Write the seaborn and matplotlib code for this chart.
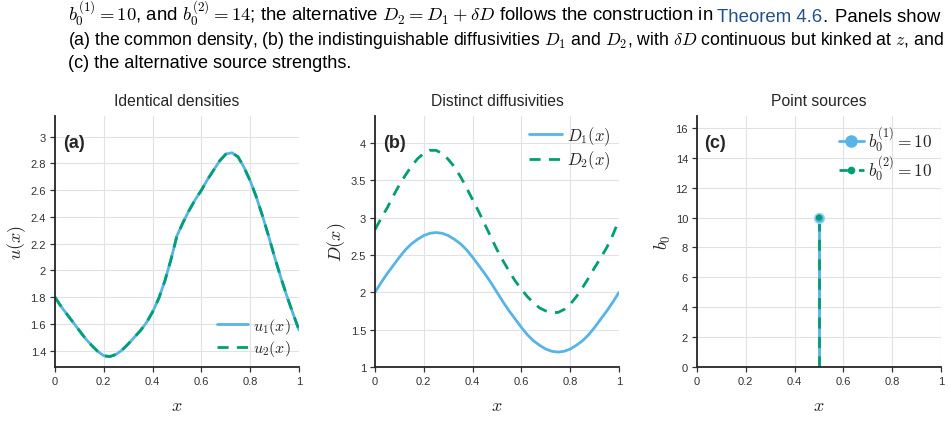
import numpy as np
import pandas as pd
import matplotlib
matplotlib.use('Agg')
import matplotlib.pyplot as plt
from matplotlib.lines import Line2D
from matplotlib.legend_handler import HandlerLine2D
from matplotlib.ticker import FuncFormatter, MultipleLocator
import seaborn as sns

# data (x step 0.025)
x_grid = [0.0, 0.025, 0.05, 0.075, 0.1, 0.125, 0.15, 0.175, 0.2, 0.225,
          0.25, 0.275, 0.3, 0.325, 0.35, 0.375, 0.4, 0.425, 0.45, 0.475,
          0.5, 0.525, 0.55, 0.575, 0.6, 0.625, 0.65, 0.675, 0.7, 0.725,
          0.75, 0.775, 0.8, 0.825, 0.85, 0.875, 0.9, 0.925, 0.95, 0.975, 1.0]
u_vals = [1.80, 1.73, 1.67, 1.61, 1.55, 1.49, 1.44, 1.395, 1.362, 1.356,
          1.372, 1.405, 1.45, 1.50, 1.55, 1.61, 1.69, 1.79, 1.92, 2.08,
          2.26, 2.36, 2.45, 2.53, 2.60, 2.68, 2.75, 2.82, 2.87, 2.88,
          2.85, 2.77, 2.67, 2.55, 2.41, 2.26, 2.10, 1.95, 1.81, 1.68, 1.555]
D1_vals = [2.00, 2.13, 2.25, 2.36, 2.47, 2.57, 2.65, 2.71, 2.76, 2.79,
           2.80, 2.79, 2.76, 2.71, 2.65, 2.57, 2.47, 2.36, 2.25, 2.13,
           2.00, 1.87, 1.75, 1.64, 1.53, 1.43, 1.35, 1.29, 1.24, 1.21,
           1.20, 1.21, 1.24, 1.29, 1.35, 1.43, 1.53, 1.64, 1.75, 1.87, 2.00]
D2_vals = [2.84, 2.99, 3.13, 3.29, 3.44, 3.57, 3.69, 3.79, 3.86, 3.90,
           3.90, 3.86, 3.78, 3.68, 3.55, 3.40, 3.24, 3.08, 2.91, 2.74,
           2.57, 2.42, 2.28, 2.15, 2.04, 1.94, 1.86, 1.79, 1.75, 1.73,
           1.73, 1.77, 1.84, 1.94, 2.06, 2.19, 2.33, 2.46, 2.60, 2.77, 2.97]
src_x = 0.5
b0_1 = 10
b0_2 = 10

blue = '#56B4E9'
green = '#009E73'
link_blue = '#22518c'

sns.set_theme(style="ticks")
plt.rcParams['font.family'] = ['Liberation Sans', 'DejaVu Sans']
plt.rcParams['mathtext.fontset'] = 'cm'

W, H = 950, 431
fig = plt.figure(figsize=(W / 100, H / 100), dpi=100)


class EndMarker(HandlerLine2D):
    # legend handle with the marker drawn at the right end of the line
    def get_xdata(self, legend, xdescent, ydescent, width, height, fontsize):
        return [-xdescent, -xdescent + width], [-xdescent + width]


def make_ax(left_px):
    ax = fig.add_axes([left_px / W, (H - 368) / H, 244 / W, 251 / H])
    ax.grid(True, color='#e2e2e2', linewidth=0.8)
    ax.set_axisbelow(True)
    for s in ['top', 'right']:
        ax.spines[s].set_visible(False)
    for s in ['left', 'bottom']:
        ax.spines[s].set_color('#262626')
        ax.spines[s].set_linewidth(1.3)
    ax.tick_params(labelsize=8, colors='#333333', length=3.5, width=0.9, pad=3)
    fmt = FuncFormatter(lambda v, p: f'{v:g}')
    ax.xaxis.set_major_formatter(fmt)
    ax.yaxis.set_major_formatter(fmt)
    ax.set_xlim(0, 1)
    ax.xaxis.set_major_locator(MultipleLocator(0.2))
    ax.set_xlabel('$x$', fontsize=13, labelpad=8)
    return ax


def panel_label(ax, txt, xf):
    ax.text(xf, 0.894, txt, transform=ax.transAxes, fontsize=13,
            fontweight='bold', va='center', ha='left')


# (a) densities
ax1 = make_ax(55)
df_u = pd.DataFrame({'x': x_grid, 'u': u_vals})
sns.lineplot(data=df_u, x='x', y='u', color=blue, linewidth=2, ax=ax1, label='$u_1(x)$')
sns.lineplot(data=df_u, x='x', y='u', color=green, linewidth=2, ax=ax1,
             linestyle=(0, (4, 3)), label='$u_2(x)$')
ax1.set_ylim(1.278, 3.155)
ax1.yaxis.set_major_locator(MultipleLocator(0.2))
ax1.set_ylabel('$u(x)$', fontsize=13, labelpad=2)
ax1.set_title('Identical densities', fontsize=11.3, pad=8)
ax1.legend(loc='lower right', frameon=False, fontsize=11.5, handlelength=1.9,
           borderaxespad=0.15, labelspacing=0.15, handletextpad=0.3)
panel_label(ax1, '(a)', 0.033)

# (b) diffusivities
ax2 = make_ax(375)
df_d = pd.DataFrame({'x': x_grid, 'D1': D1_vals, 'D2': D2_vals})
sns.lineplot(data=df_d, x='x', y='D1', color=blue, linewidth=2, ax=ax2, label='$D_1(x)$')
sns.lineplot(data=df_d, x='x', y='D2', color=green, linewidth=2, ax=ax2,
             linestyle=(0, (4, 3)), label='$D_2(x)$')
ax2.set_ylim(1, 4.36)
ax2.yaxis.set_major_locator(MultipleLocator(0.5))
ax2.set_ylabel('$D(x)$', fontsize=13, labelpad=2)
ax2.set_title('Distinct diffusivities', fontsize=11.3, pad=8)
ax2.legend(loc='upper right', frameon=False, fontsize=12, handlelength=2.0,
           borderaxespad=0.1, labelspacing=0.1, handletextpad=0.3)
panel_label(ax2, '(b)', 0.033)

# (c) point sources
ax3 = make_ax(697)
stem = pd.DataFrame({'x': [src_x, src_x], 'b1': [0, b0_1], 'b2': [0, b0_2]})
sns.lineplot(data=stem, x='x', y='b1', color=blue, linewidth=2, ax=ax3,
             estimator=None, sort=False)
sns.lineplot(data=stem, x='x', y='b2', color=green, linewidth=2, ax=ax3,
             estimator=None, sort=False, linestyle=(0, (4, 3)))
sns.scatterplot(x=[src_x], y=[b0_1], color=blue, s=50, ax=ax3,
                edgecolor='#9fd3f2', linewidth=1, zorder=4)
sns.scatterplot(x=[src_x], y=[b0_2], color=green, s=20, ax=ax3,
                edgecolor='none', zorder=5)
ax3.set_ylim(0, 16.8)
ax3.yaxis.set_major_locator(MultipleLocator(2))
ax3.set_ylabel('$b_0$', fontsize=13, labelpad=2)
ax3.set_title('Point sources', fontsize=11.3, pad=8)
h1 = Line2D([], [], color=blue, lw=2, marker='o', markersize=8)
h2 = Line2D([], [], color=green, lw=2, linestyle=(0, (3, 4)), marker='o',
            markersize=4.5)
ax3.legend([h1, h2], [f'$b_0^{{(1)}} = {b0_1}$', f'$b_0^{{(2)}} = {b0_2}$'],
           handler_map={h1: EndMarker(), h2: EndMarker()},
           loc='upper right', frameon=False, fontsize=12.5,
           handlelength=1.4, borderaxespad=0.1, labelspacing=0.0, handletextpad=0.25)
panel_label(ax3, '(c)', 0.029)

# caption lines above the panels
renderer = fig.canvas.get_renderer()


def caption_line(pieces, y_px, size, x0=68):
    x = x0
    for txt, col, gap in pieces:
        x += gap
        t = fig.text(x / W, 1 - y_px / H, txt, fontsize=size, color=col,
                     ha='left', va='baseline')
        x = t.get_window_extent(renderer).x1


line1 = [(r'$b_0^{(1)}=10$, and $b_0^{(2)}=14$; the alternative $D_2=D_1+\delta D$ follows the construction in', 'black', 0),
         ('Theorem 4.6', link_blue, 4), ('.', 'black', 0), ('Panels show', 'black', 7)]
line2 = [(r'(a) the common density, (b) the indistinguishable diffusivities $D_1$ and $D_2$, with $\delta D$ continuous but kinked at $z$, and', 'black', 0)]
line3 = [('(c) the alternative source strengths.', 'black', 0)]

sizes = []
for pieces in [line1, line2]:
    probe = fig.text(0, 0, ' '.join(p[0] for p in pieces), fontsize=11)
    w = probe.get_window_extent(renderer).width
    probe.remove()
    sizes.append(11 * 877 / w)
caption_line(line1, 21.5, sizes[0])
caption_line(line2, 45, sizes[1])
caption_line(line3, 67.5, np.mean(sizes))

fig.savefig('out.png', dpi=100)
